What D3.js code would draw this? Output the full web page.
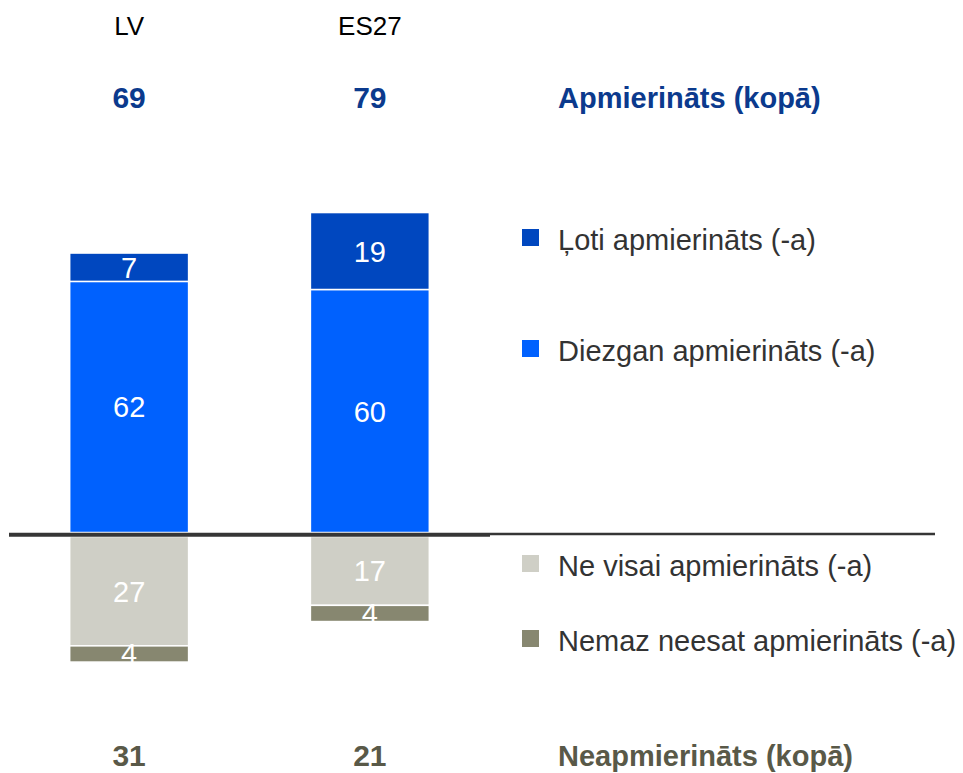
<!DOCTYPE html>
<html>
<head>
<meta charset="utf-8">
<script src="https://cdn.jsdelivr.net/npm/d3@7"></script>
<style>
  body { margin: 0; background: #fff; }
  svg { display: block; font-family: "Liberation Sans", Arial, sans-serif; }
</style>
</head>
<body>
<svg id="chart" width="963" height="773"></svg>
<script>
// categories and series
const countries = ["LV", "ES27"];
const veryPos = [7, 19];
const fairlyPos = [62, 60];
const notVery = [27, 17];
const notAtAll = [4, 4];
const totalPos = [69, 79];
const totalNeg = [31, 21];

const posNames = ["Ļoti apmierināts (-a)", "Diezgan apmierināts (-a)"];
const negNames = ["Ne visai apmierināts (-a)", "Nemaz neesat apmierināts (-a)"];
const posTitle = "Apmierināts (kopā)";
const negTitle = "Neapmierināts (kopā)";

const colors = {
  very: "#0047bf",
  fairly: "#0061fe",
  notVery: "#cfcfc6",
  notAtAll: "#878770"
};

const svg = d3.select("#chart");

const x = d3.scaleBand()
  .domain(countries)
  .range([9.5, 489.5])
  .paddingInner(0.506)
  .paddingOuter(0.25);

// positive stack goes up from the axis, negative stack goes down below it
const yPos = d3.scaleLinear().domain([0, 100]).range([532.5, 127.5]);
const yNeg = d3.scaleLinear().domain([0, 100]).range([536.5, 941.5]);

const segs = [];
countries.forEach((c, i) => {
  segs.push({c: c, y0: 0, y1: fairlyPos[i], v: fairlyPos[i], col: colors.fairly, s: yPos});
  segs.push({c: c, y0: fairlyPos[i], y1: fairlyPos[i] + veryPos[i], v: veryPos[i], col: colors.very, s: yPos});
  segs.push({c: c, y0: 0, y1: notVery[i], v: notVery[i], col: colors.notVery, s: yNeg});
  segs.push({c: c, y0: notVery[i], y1: notVery[i] + notAtAll[i], v: notAtAll[i], col: colors.notAtAll, s: yNeg});
});

const g = svg.append("g");

g.selectAll("rect.seg").data(segs)
  .enter().append("rect")
  .attr("class", "seg")
  .attr("x", d => x(d.c))
  .attr("width", x.bandwidth())
  .attr("y", d => Math.min(d.s(d.y0), d.s(d.y1)))
  .attr("height", d => Math.abs(d.s(d.y1) - d.s(d.y0)))
  .attr("fill", d => d.col)
  .attr("stroke", "#fff")
  .attr("stroke-width", 1.5);

g.selectAll("text.val").data(segs)
  .enter().append("text")
  .attr("class", "val")
  .attr("x", d => x(d.c) + x.bandwidth() / 2)
  .attr("y", d => (d.s(d.y0) + d.s(d.y1)) / 2 + 10.5)
  .attr("text-anchor", "middle")
  .attr("fill", "#fff")
  .style("font-size", "29px")
  .text(d => d.v);

// axis line: heavy under the bars, thinner towards the legend
svg.append("line")
  .attr("x1", 9).attr("x2", 490)
  .attr("y1", 534.7).attr("y2", 534.7)
  .attr("stroke", "#363636").attr("stroke-width", 4);
svg.append("line")
  .attr("x1", 490).attr("x2", 935)
  .attr("y1", 534).attr("y2", 534)
  .attr("stroke", "#363636").attr("stroke-width", 2.6);

// column headers and totals
svg.selectAll("text.cat").data(countries)
  .enter().append("text")
  .attr("class", "cat")
  .attr("x", d => x(d) + x.bandwidth() / 2)
  .attr("y", 35)
  .attr("text-anchor", "middle")
  .attr("fill", "#000")
  .style("font-size", "26px")
  .text(d => d);

svg.selectAll("text.tpos").data(totalPos)
  .enter().append("text")
  .attr("class", "tpos")
  .attr("x", (d, i) => x(countries[i]) + x.bandwidth() / 2)
  .attr("y", 108)
  .attr("text-anchor", "middle")
  .attr("fill", "#0b3a8d")
  .style("font-size", "30px").style("font-weight", "bold")
  .text(d => d);

svg.selectAll("text.tneg").data(totalNeg)
  .enter().append("text")
  .attr("class", "tneg")
  .attr("x", (d, i) => x(countries[i]) + x.bandwidth() / 2)
  .attr("y", 766)
  .attr("text-anchor", "middle")
  .attr("fill", "#595948")
  .style("font-size", "30px").style("font-weight", "bold")
  .text(d => d);

svg.append("text")
  .attr("x", 558).attr("y", 108)
  .attr("fill", "#0b3a8d")
  .style("font-size", "29px").style("font-weight", "bold")
  .text(posTitle);

svg.append("text")
  .attr("x", 558).attr("y", 766)
  .attr("fill", "#595948")
  .style("font-size", "29px").style("font-weight", "bold")
  .text(negTitle);

// legend
const legendItems = [
  {name: posNames[0], col: colors.very, y: 229},
  {name: posNames[1], col: colors.fairly, y: 340},
  {name: negNames[0], col: colors.notVery, y: 555},
  {name: negNames[1], col: colors.notAtAll, y: 630}
];

const leg = svg.append("g");
leg.selectAll("rect").data(legendItems)
  .enter().append("rect")
  .attr("x", 522).attr("y", d => d.y)
  .attr("width", 17).attr("height", 17)
  .attr("fill", d => d.col);

leg.selectAll("text").data(legendItems)
  .enter().append("text")
  .attr("x", 558).attr("y", d => d.y + 21)
  .attr("fill", "#333")
  .style("font-size", "29px")
  .text(d => d.name);
</script>
</body>
</html>
